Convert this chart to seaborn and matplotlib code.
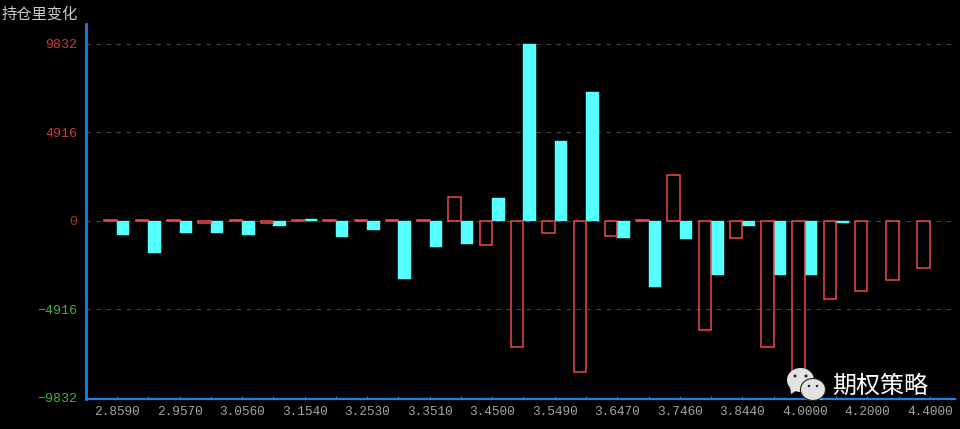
import seaborn as sns
import matplotlib.pyplot as plt
import pandas as pd
from matplotlib.patches import Ellipse, Polygon

# Datos
strikes = ['2.8590', '2.9080', '2.9570', '3.0070', '3.0560', '3.1050', '3.1540', '3.2040', '3.2530',
           '3.3020', '3.3510', '3.4010', '3.4500', '3.5000', '3.5490', '3.5980', '3.6470', '3.6970',
           '3.7460', '3.7950', '3.8440', '3.9000', '4.0000', '4.1000', '4.2000', '4.3000', '4.4000']
call_change = [40, 40, 40, -120, 40, -120, 40, 40, 40, 40, 40, 1330, -1360, -7020, -660, -8420, -850,
               40, 2540, -6070, -930, -7020, -8830, -4330, -3910, -3280, -2590]
put_change = [-810, -1790, -680, -680, -810, -260, 90, -890, -480, -3250, -1440, -1290, 1260, 9832, 4450,
              7170, -960, -3660, -1030, -3030, -310, -3030, -3030, -130, None, None, None]
y_ticks = [9832, 4916, 0, -4916, -9832]
y_tick_colors = ['#c83c3c', '#c83c3c', '#a83232', '#3cb43c', '#3cb43c']
title_text = '持仓里变化'
watermark_text = '期权策略'

df = pd.DataFrame({
    'strike': strikes * 2,
    'change': call_change + put_change,
    'side': ['call'] * len(strikes) + ['put'] * len(strikes),
})

sns.set_theme(style='dark', rc={'figure.facecolor': 'black', 'axes.facecolor': 'black'})
plt.rcParams['font.family'] = ['Noto Sans CJK SC', 'DejaVu Sans']

BLUE = '#1c80e4'
RED = '#ee4a4a'
CYAN = '#55ffff'

fig = plt.figure(figsize=(9.6, 4.29), dpi=100)
ax = fig.add_axes([85.5 / 960, 1 - 398.7 / 429, (955 - 85.5) / 960, (398.7 - 24) / 429])

sns.barplot(data=df, x='strike', y='change', hue='side', hue_order=['call', 'put'],
            palette={'call': RED, 'put': CYAN}, width=0.8, gap=0, saturation=1,
            errorbar=None, legend=False, ax=ax)

# Barras rojas huecas
for bar in ax.containers[0]:
    bar.set_facecolor('none')
    bar.set_edgecolor(RED)
    bar.set_linewidth(1.1)
    bar.set_zorder(3)
for bar in ax.containers[1]:
    bar.set_edgecolor(CYAN)
    bar.set_linewidth(0.3)
    bar.set_zorder(2.5)

ax.set_xlim(-1.007, 26.8)
ax.set_ylim(-9880, 10940)
ax.set_xlabel('')
ax.set_ylabel('')

# Rejilla punteada
ax.set_axisbelow(True)
ax.xaxis.grid(False)
ax.set_yticks(y_ticks)
ax.yaxis.grid(True, color='#454545', linestyle=(0, (4, 5)), linewidth=0.8)

ax.set_xticks(range(len(strikes)))
ax.set_xticklabels([s if i % 2 == 0 else '' for i, s in enumerate(strikes)],
                   family='Liberation Mono', fontsize=9.2, color='#a4a4a4')
ax.tick_params(axis='x', direction='in', length=2.5, width=0.8, color=BLUE, pad=5, bottom=True)
ax.tick_params(axis='y', length=0, pad=6)
for label, color in zip(ax.get_yticklabels(), y_tick_colors):
    label.set_family('Liberation Mono')
    label.set_fontsize(9.6)
    label.set_color(color)

for side in ['top', 'right']:
    ax.spines[side].set_visible(False)
ax.spines['left'].set_visible(True)
ax.spines['left'].set_color(BLUE)
ax.spines['left'].set_linewidth(2.0)
ax.spines['bottom'].set_visible(True)
ax.spines['bottom'].set_color(BLUE)
ax.spines['bottom'].set_linewidth(1.6)

fig.text(2 / 960, 1 - 14 / 429, title_text, color='#cccccc', fontsize=11, va='center', ha='left')

# Marca de agua (capa en pixeles de la imagen)
overlay = fig.add_axes([0, 0, 1, 1], facecolor='none')
overlay.set_xlim(0, 960)
overlay.set_ylim(429, 0)
overlay.axis('off')
LOGO = '#e2e2e2'
overlay.add_patch(Polygon([[790, 386], [791, 394], [799, 389]], color=LOGO, lw=0))
overlay.add_patch(Ellipse((800.5, 380), 27, 24, color=LOGO, lw=0))
overlay.add_patch(Polygon([[819, 393], [822, 400], [813, 397]], color=LOGO, lw=0))
overlay.add_patch(Ellipse((813, 389.5), 25, 22, facecolor=LOGO, edgecolor='#222222', lw=0.8))
for x, y, w in [(795, 376, 3), (806, 376, 3), (809, 386, 2.5), (817, 386, 2.5)]:
    overlay.add_patch(Ellipse((x, y), w, w, color='#222222', lw=0))
overlay.text(880, 385.5, watermark_text, color='white', fontsize=17.3, ha='center', va='center')

fig.savefig('out.png', dpi=100, facecolor='black')
